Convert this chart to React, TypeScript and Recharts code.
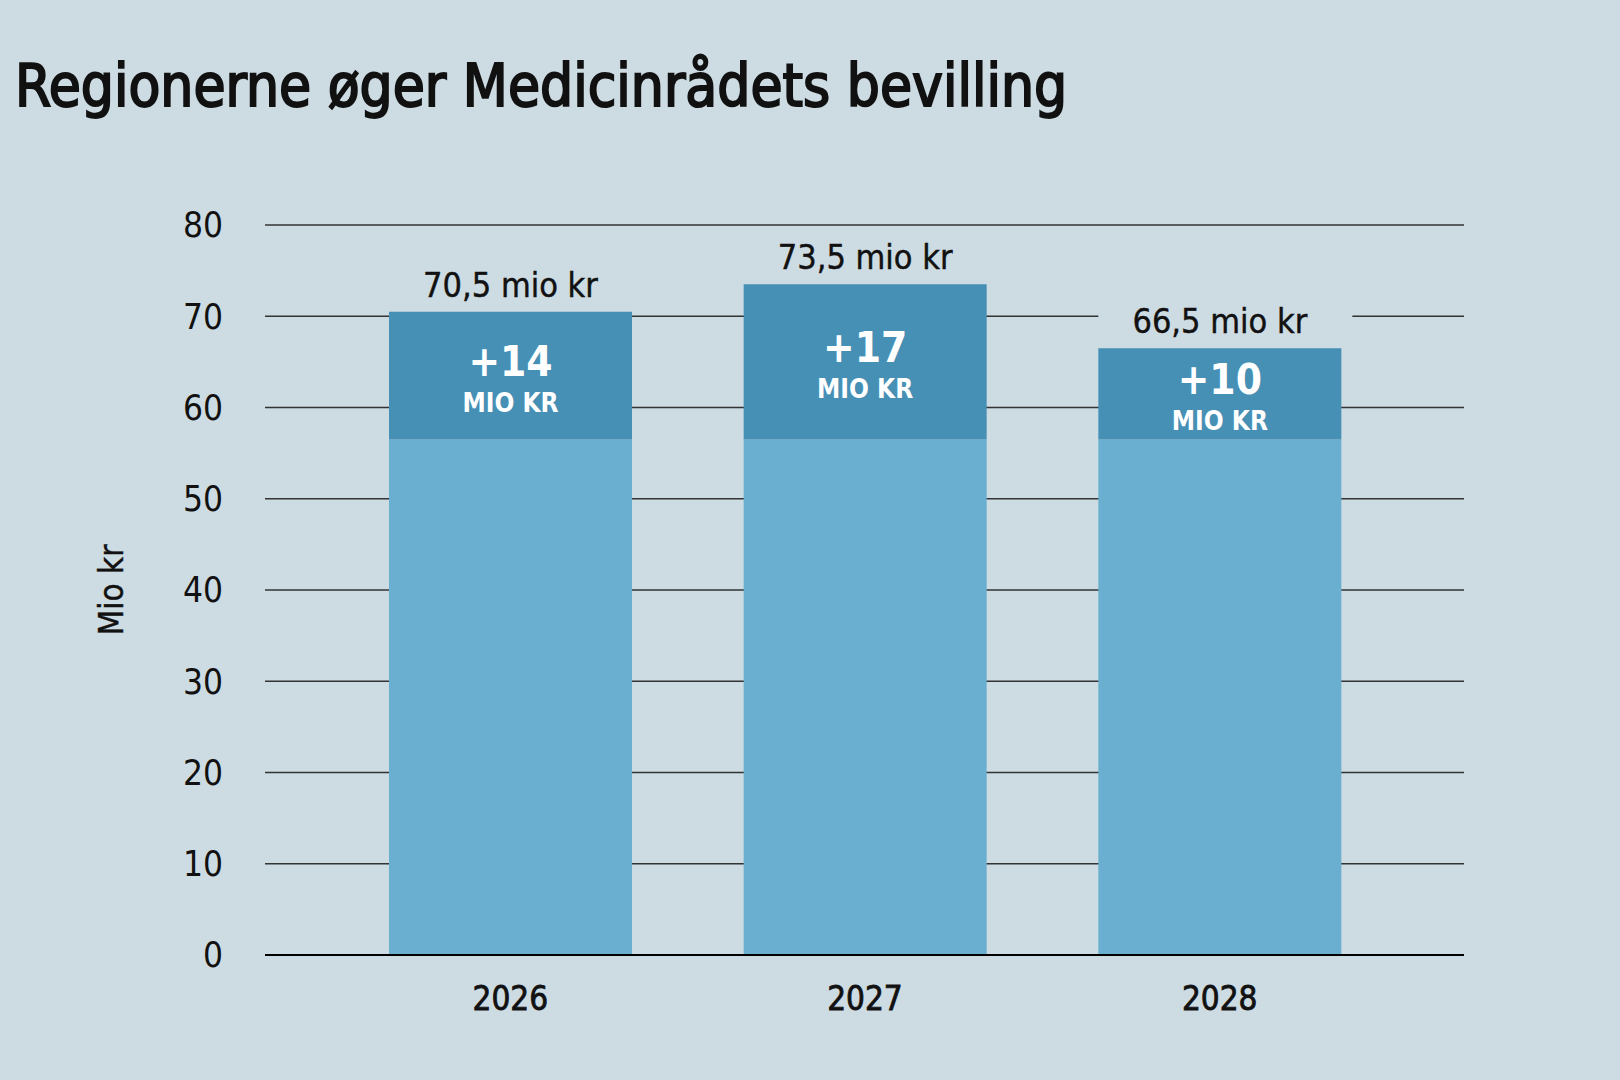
import React from 'react';
import { BarChart, Bar, XAxis, YAxis, CartesianGrid, LabelList } from 'recharts';

const years = ['2026', '2027', '2028'];
const baseValues = [56.5, 56.5, 56.5];
const increases = [14, 17, 10];
const totals = [70.5, 73.5, 66.5];
const yTicks = [0, 10, 20, 30, 40, 50, 60, 70, 80];

const data = years.map((year, i) => ({
  year,
  base: baseValues[i],
  increase: increases[i],
  total: totals[i],
}));

const BG = '#cddbe3';
const FONT = '"DejaVu Sans Condensed", "Liberation Sans Narrow", sans-serif';

const TotalLabel = (props: any) => {
  const { x, y, width, value } = props;
  const cx = x + width / 2;
  const text = `${String(value).replace('.', ',')} mio kr`;
  return (
    <g>
      <rect x={x} y={y - 44} width={width + 11} height={36} fill={BG} />
      <text
        x={cx}
        y={y - 15}
        textAnchor="middle"
        fontFamily={FONT}
        fontSize={34}
        fill="#111"
        stroke="#111"
        strokeWidth={0.4}
      >
        {text}
      </text>
    </g>
  );
};

const IncreaseLabel = (props: any) => {
  const { x, y, width, height, value } = props;
  const cx = x + width / 2;
  const cy = y + height / 2;
  return (
    <g fill="#fff" fontFamily={FONT} fontWeight="bold" textAnchor="middle">
      <text x={cx} y={cy} fontSize={42}>{`+${value}`}</text>
      <text x={cx} y={cy + 36} fontSize={26}>MIO KR</text>
    </g>
  );
};

const App: React.FC = () => {
  return (
    <div
      style={{
        position: 'absolute',
        left: 0,
        top: 0,
        width: 1620,
        height: 1080,
        background: BG,
        overflow: 'hidden',
      }}
    >
      <div
        style={{
          position: 'absolute',
          left: 15,
          top: 51,
          fontFamily: FONT,
          fontSize: 58,
          fontWeight: 'normal',
          lineHeight: '70px',
          color: '#111',
          whiteSpace: 'nowrap',
          WebkitTextStroke: '1.9px #111',
        }}
      >
        Regionerne øger Medicinrådets bevilling
      </div>
      <BarChart
        width={1620}
        height={1080}
        data={data}
        margin={{ top: 225, right: 156, bottom: 55, left: 145 }}
        barSize={243}
      >
        <CartesianGrid vertical={false} stroke="#333" strokeWidth={1.5} />
        <XAxis
          dataKey="year"
          height={70}
          padding={{ left: 68, right: 67 }}
          tickLine={false}
          tickSize={0}
          tickMargin={32}
          axisLine={{ stroke: '#000', strokeWidth: 2 }}
          tick={{ fontFamily: FONT, fontSize: 33, fill: '#111', stroke: '#111', strokeWidth: 0.8 }}
        />
        <YAxis
          width={120}
          domain={[0, 80]}
          ticks={yTicks}
          tickLine={false}
          axisLine={false}
          tickSize={0}
          tickMargin={42}
          tick={{ fontFamily: FONT, fontSize: 35, fill: '#111' }}
          label={{
            value: 'Mio kr',
            angle: -90,
            position: 'insideLeft',
            offset: -34,
            style: { fontFamily: FONT, fontSize: 33, fill: '#111', stroke: '#111', strokeWidth: 0.4, textAnchor: 'middle' },
          }}
        />
        <Bar dataKey="base" stackId="a" fill="#6aafcf" isAnimationActive={false} />
        <Bar dataKey="increase" stackId="a" fill="#468fb5" isAnimationActive={false}>
          <LabelList dataKey="total" content={TotalLabel} />
          <LabelList dataKey="increase" content={IncreaseLabel} />
        </Bar>
      </BarChart>
    </div>
  );
};

export default App;
